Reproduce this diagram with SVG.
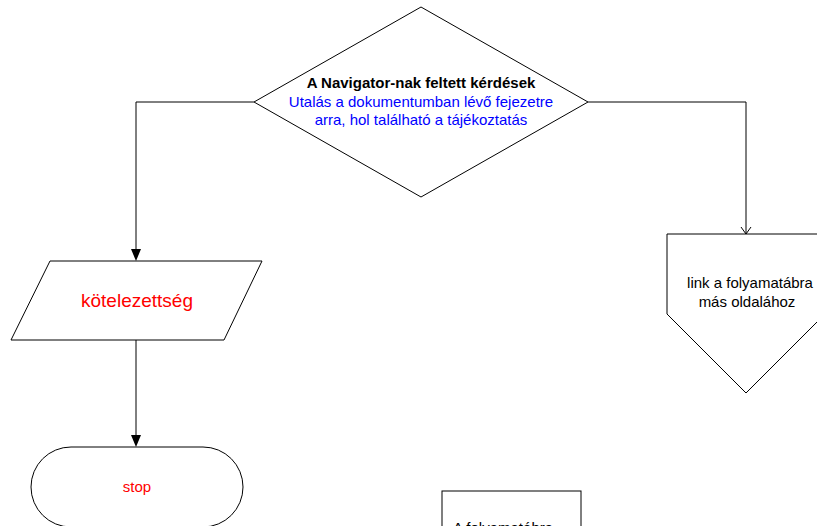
<svg xmlns="http://www.w3.org/2000/svg" width="817" height="526" viewBox="0 0 817 526">
<style>
.shape{fill:#fff;stroke:#000;stroke-width:1}
.line{fill:none;stroke:#000;stroke-width:1}
text{font-family:"Liberation Sans",Arial,sans-serif;font-size:15px;text-anchor:middle}
.red{fill:#ff0000}
.blue{fill:#0000ff}
.big{font-size:19px}
</style>
<g id="connectors">
<path class="line" d="M254,102 H136 V249"/>
<path d="M131,249 L141,249 L136,261 Z" fill="#000"/>
<path class="line" d="M136,340 V435"/>
<path d="M131,435 L141,435 L136,447 Z" fill="#000"/>
<path class="line" d="M588,102 H746 V234"/>
<path class="line" d="M741,227 L746,234 L751,227"/>
</g>
<g id="decision">
<polygon class="shape" points="421,7 588,102 421,197 254,102"/>
<text x="421" y="88" font-weight="bold">A Navigator-nak feltett kérdések</text>
<text x="421" y="107" class="blue">Utalás a dokumentumban lévő fejezetre</text>
<text x="421" y="125" class="blue">arra, hol található a tájékoztatás</text>
</g>
<g id="data">
<polygon class="shape" points="50,261 262,261 224,340 11,340"/>
<text x="137" y="307" class="red big">kötelezettség</text>
</g>
<g id="stop">
<rect class="shape" x="31" y="447" width="212" height="80" rx="40" ry="40"/>
<text x="137" y="492" class="red">stop</text>
</g>
<g id="offpage">
<polygon class="shape" points="667,234 825,234 825,314 746,393 667,314"/>
<text x="750" y="288">link a folyamatábra</text>
<text x="747" y="307">más oldalához</text>
</g>
<g id="box">
<rect class="shape" x="442" y="491" width="139" height="60"/>
<text x="453" y="533" style="text-anchor:start">A folyamatábra</text>
</g>
</svg>
